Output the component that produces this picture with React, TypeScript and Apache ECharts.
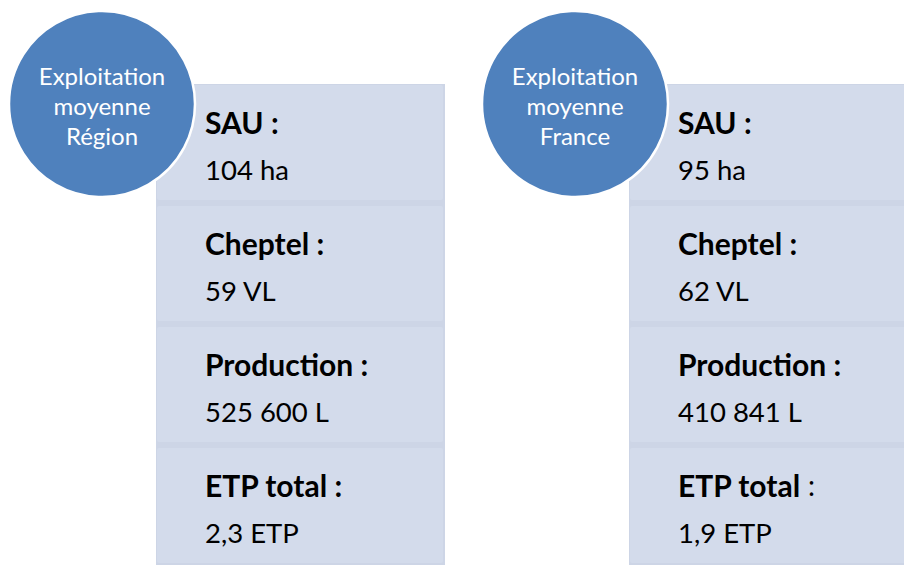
import React, { useEffect, useRef } from "react";
import * as echarts from "echarts";

const groupTitles = [
  ["Exploitation", "moyenne", "Région"],
  ["Exploitation", "moyenne", "France"],
];
const itemLabels = ["SAU", "Cheptel", "Production", "ETP total"];
const regionValues = ["104 ha", "59 VL", "525 600 L", "2,3 ETP"];
const franceValues = ["95 ha", "62 VL", "410 841 L", "1,9 ETP"];
// whether the colon after the label is bold, per group
const regionBoldColon = [true, true, true, true];
const franceBoldColon = [true, true, true, false];

const BLUE = "#4F81BD";
const CARD = "#D3DBEB";
const BAND = "#CDD5E6";
const FONT = "Lato, 'Open Sans', sans-serif";

function buildGroup(
  ox: number,
  titles: string[],
  values: string[],
  boldColon: boolean[]
) {
  const els: any[] = [];
  const cardX = ox + 54;
  const cardW = 289;
  const top = 84;
  const step = 121;
  els.push({
    type: "rect",
    shape: { x: cardX, y: top, width: cardW, height: step * 4 },
    style: { fill: BAND },
    silent: true,
  });
  itemLabels.forEach((lab, i) => {
    const y = top + i * step;
    els.push({
      type: "rect",
      shape: { x: cardX + 1, y: y + 1, width: cardW - 3, height: step - 6, r: 2 },
      style: { fill: CARD },
      silent: true,
    });
    const rich = boldColon[i] ? `{b|${lab} :}` : `{b|${lab}}{n| :}`;
    els.push({
      type: "text",
      x: ox + 103,
      y: y + 38,
      style: {
        text: rich,
        verticalAlign: "middle",
        align: "left",
        rich: {
          b: { fontFamily: FONT, fontSize: 30, fontWeight: "bold", fill: "#000" },
          n: { fontFamily: FONT, fontSize: 28, fontWeight: "normal", fill: "#000" },
        },
      },
      silent: true,
    });
    els.push({
      type: "text",
      x: ox + 103,
      y: y + 85,
      style: {
        text: values[i],
        verticalAlign: "middle",
        align: "left",
        fontFamily: FONT,
        fontSize: 27.5,
        fill: "#000",
      },
      silent: true,
    });
  });
  els.push({
    type: "circle",
    shape: { cx: ox, cy: 104, r: 93 },
    style: { fill: BLUE, stroke: "#FFFFFF", lineWidth: 2.5 },
    silent: true,
  });
  titles.forEach((t, j) => {
    els.push({
      type: "text",
      x: ox,
      y: 75 + j * 30,
      style: {
        text: t,
        align: "center",
        verticalAlign: "middle",
        fontFamily: FONT,
        fontSize: 24,
        fill: "#FFFFFF",
      },
      silent: true,
    });
  });
  return els;
}

export default function App() {
  const ref = useRef<HTMLDivElement>(null);
  useEffect(() => {
    if (!ref.current) return;
    const chart = echarts.init(ref.current, undefined, { renderer: "svg" });
    chart.setOption({
      animation: false,
      backgroundColor: "#FFFFFF",
      graphic: {
        elements: [
          ...buildGroup(102, groupTitles[0], regionValues, regionBoldColon),
          ...buildGroup(575, groupTitles[1], franceValues, franceBoldColon),
        ],
      },
    });
    return () => chart.dispose();
  }, []);
  return (
    <div
      ref={ref}
      style={{ position: "fixed", left: 0, top: 0, width: 904, height: 565 }}
    />
  );
}
